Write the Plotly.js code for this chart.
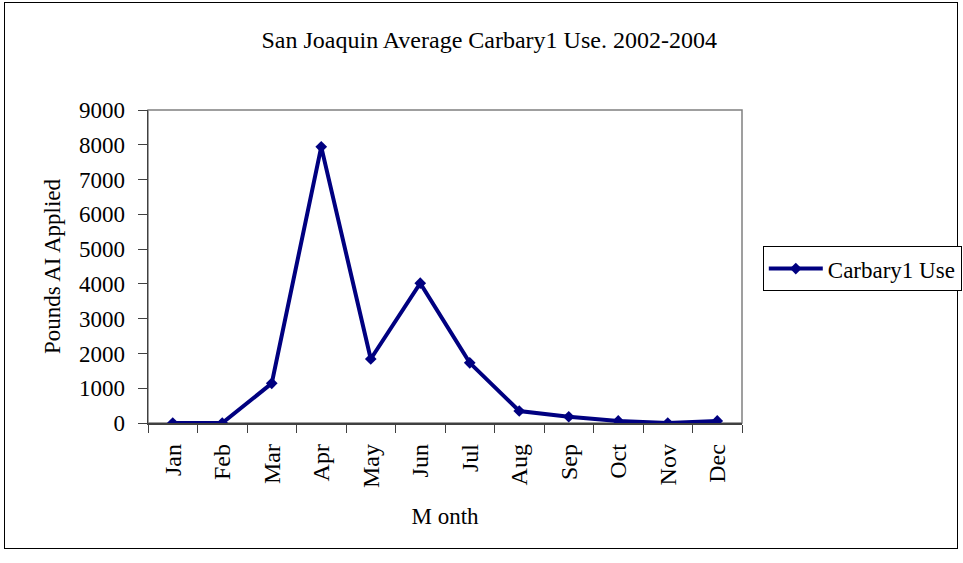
<!DOCTYPE html>
<html>
<head>
<meta charset="utf-8">
<script src="https://cdn.plot.ly/plotly-3.0.1.min.js"></script>
<style>
html,body{margin:0;padding:0;background:#fff;overflow:hidden;}
#wrap{position:relative;width:963px;height:563px;overflow:hidden;background:#fff;}
#chart{position:relative;z-index:1;width:963px;height:563px;}
#frame{position:absolute;z-index:0;left:4px;top:2px;width:952px;height:545px;border:1px solid #000;pointer-events:none;}
</style>
</head>
<body>
<div id="wrap"><div id="frame"></div><div id="chart"></div></div>
<script>
const months = ["Jan","Feb","Mar","Apr","May","Jun","Jul","Aug","Sep","Oct","Nov","Dec"];
const carbarylUse = [0, 0, 1140, 7940, 1840, 4020, 1730, 345, 180, 60, 0, 60];
const yTicks = [0,1000,2000,3000,4000,5000,6000,7000,8000,9000];
const seriesName = "Carbary1 Use";
const chartTitle = "San Joaquin Average Carbary1 Use. 2002-2004";

const font = "'Liberation Serif', 'Times New Roman', serif";
const trace = {
  x: months, y: carbarylUse, type: "scatter", mode: "lines+markers",
  name: seriesName,
  line: {color: "#000080", width: 4},
  marker: {symbol: "diamond", size: 9, color: "#000080"}
};
const layout = {
  width: 963, height: 563,
  margin: {l: 148, r: 221, t: 110, b: 140, autoexpand: false},
  paper_bgcolor: "rgba(0,0,0,0)", plot_bgcolor: "#fff",
  font: {family: font, size: 22, color: "#000"},
  title: {text: chartTitle, font: {family: font, size: 24, color: "#000"}, x: 0.508, xanchor: "center", y: 0.93, yanchor: "middle"},
  xaxis: {
    type: "category", range: [-0.5, 11.5], tickson: "boundaries",
    ticks: "outside", ticklen: 8, tickcolor: "#404040", tickwidth: 1,
    tickangle: -90, showgrid: false, zeroline: false,
    showline: true, linecolor: "#404040", linewidth: 1.5,
    tickfont: {family: font, size: 24},
    ticklabelstandoff: 10,
    automargin: false,
    title: {text: "M onth", font: {family: font, size: 23}, standoff: 21}
  },
  yaxis: {
    range: [0, 9000], tickvals: yTicks, ticktext: yTicks.map(String),
    ticks: "outside", ticklen: 9, tickcolor: "#404040", tickwidth: 1,
    showgrid: false, zeroline: false,
    showline: true, linecolor: "#404040", linewidth: 1.5,
    tickfont: {family: font, size: 23},
    ticklabelstandoff: 8,
    automargin: false,
    title: {text: "Pounds AI Applied", font: {family: font, size: 23}, standoff: 12}
  },
  shapes: [{type: "rect", xref: "paper", yref: "paper", x0: 0, x1: 1, y0: 0, y1: 1,
    line: {color: "#808080", width: 1.5}, layer: "below"}],
  showlegend: true,
  legend: {x: 1.035, y: 0.565, xanchor: "left", yanchor: "top",
    bordercolor: "#000", borderwidth: 1, bgcolor: "#fff", itemwidth: 54,
    font: {family: font, size: 23}}
};
Plotly.newPlot("chart", [trace], layout, {displayModeBar: false, staticPlot: true});
</script>
</body>
</html>
